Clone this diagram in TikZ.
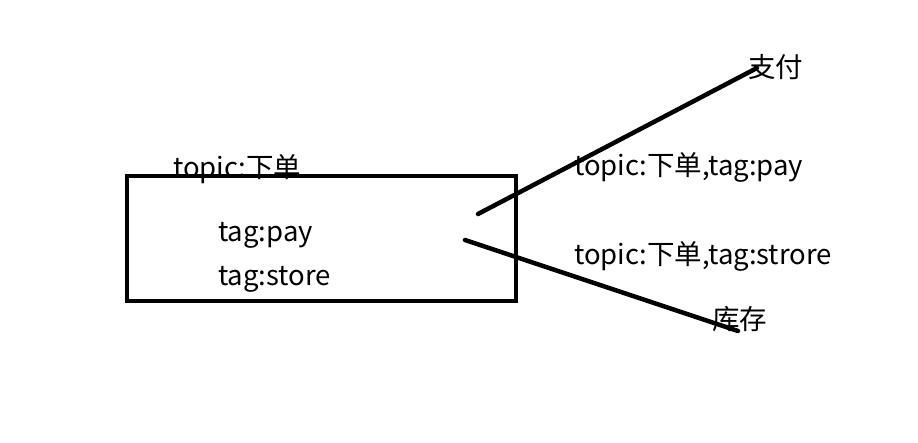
\documentclass[tikz,border=0pt]{standalone}
\usepackage{fontspec}
\setmainfont{Noto Sans CJK SC}
\begin{document}
\begin{tikzpicture}[x=1pt,y=-1pt,
  lbl/.style={anchor=west,inner sep=0pt,font=\fontsize{27.5}{32}\selectfont},
  thick line/.style={line width=4.5pt,line cap=round},
  boxstyle/.style={draw,line width=4.5pt}]
\useasboundingbox (0,0) rectangle (918,443);
\fill[white] (0,0) rectangle (918,443);
\draw[boxstyle] (127,176) rectangle (516,301);
\node[lbl] (topic) at (173,169) {topic:下单};
\node[lbl] (pay) at (218,235) {tag:pay};
\node[lbl] (store) at (218,279) {tag:store};
\node[lbl] (zhifu) at (748,67) {支付};
\node[lbl] (l1) at (574,167) {topic:下单,tag:pay};
\node[lbl] (l2) at (574,256) {topic:下单,tag:strore};
\node[lbl] (kucun) at (712,319) {库存};
\coordinate (a1) at (478,214);
\coordinate (b1) at (757,68);
\coordinate (a2) at (465,240);
\coordinate (b2) at (738,331);
\draw[thick line] (a1) -- (b1);
\draw[thick line] (a2) -- (b2);
\end{tikzpicture}
\end{document}
